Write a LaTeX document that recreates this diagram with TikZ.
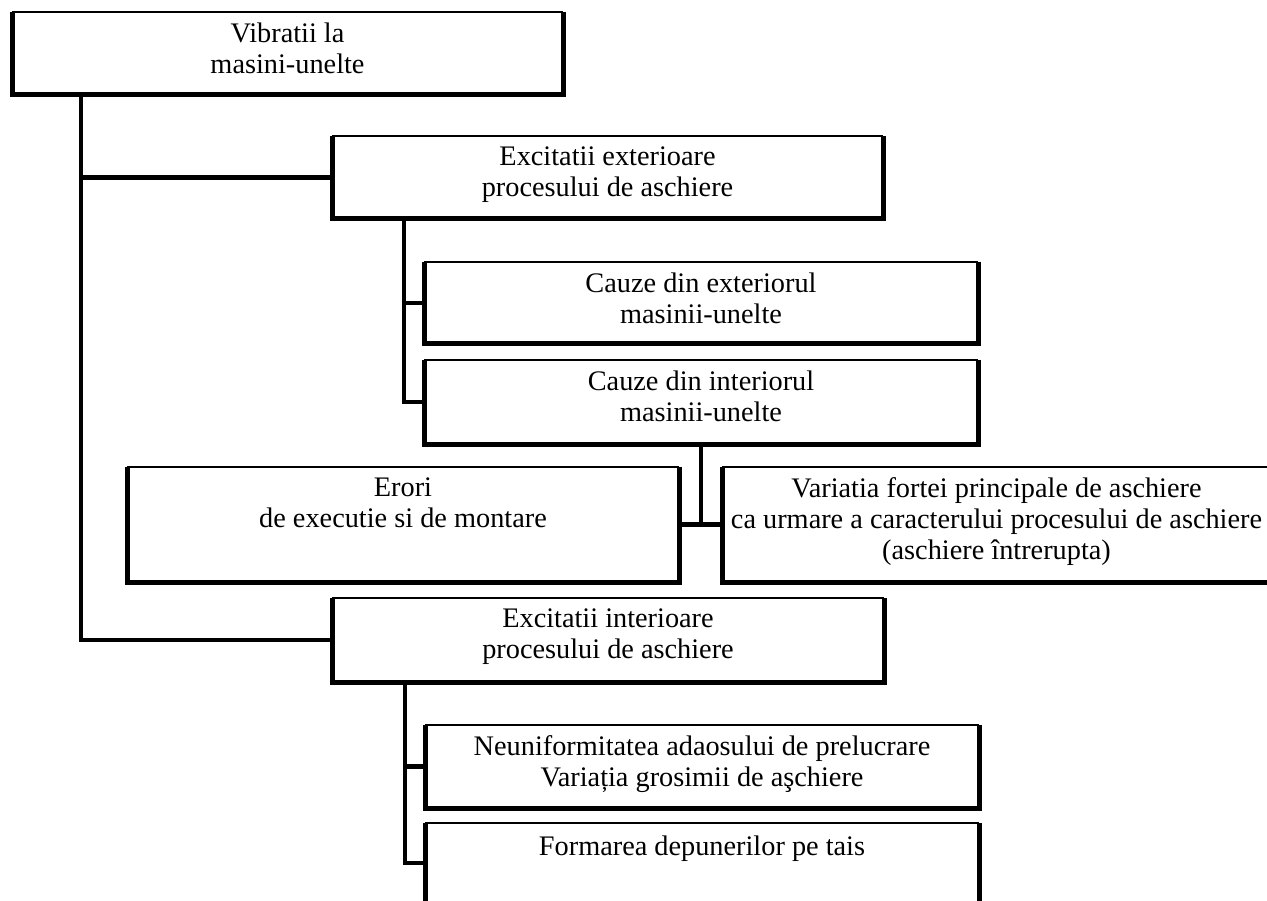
\documentclass[tikz,border=0pt]{standalone}
\usepackage{fontspec}
\setmainfont{Liberation Serif}
\begin{document}
\begin{tikzpicture}[x=1pt,y=-1pt,
  boxnode/.style={inner sep=0pt, outer sep=0pt, anchor=north west},
  txt/.style={font=\fontsize{28.3}{31}\selectfont, align=center, inner sep=0pt, anchor=north, execute at begin node=\strut},
  thinedge/.style={line width=2.8pt},
  thickedge/.style={line width=5pt, line join=miter},
  conn/.style={line width=4.2pt, line join=miter}]
\useasboundingbox (0,0) rectangle (1267,901);
\clip (0,0) rectangle (1267,901);
\fill[white] (0,0) rectangle (1267,901);

% boxes
\node[boxnode, minimum width=551pt, minimum height=83pt] (b1) at (12,12) {};
\node[boxnode, minimum width=551pt, minimum height=83pt] (b2) at (332,136) {};
\node[boxnode, minimum width=554pt, minimum height=82pt] (b3) at (424,262) {};
\node[boxnode, minimum width=554pt, minimum height=84pt] (b4) at (424,360) {};
\node[boxnode, minimum width=552pt, minimum height=115pt] (b5) at (127,467) {};
\node[boxnode, minimum width=549pt, minimum height=115pt] (b6) at (722,467) {};
\node[boxnode, minimum width=552pt, minimum height=84pt] (b7) at (332,598) {};
\node[boxnode, minimum width=554pt, minimum height=83pt] (b8) at (425,725) {};
\node[boxnode, minimum width=554pt, minimum height=80pt] (b9) at (425,823) {};

% connectors
\coordinate (j1) at ([xshift=69pt]b1.south west);
\draw[conn] (j1) |- (b7.west);
\draw[conn] (j1 |- b2.west) -- (b2.west);
\coordinate (j2) at ([xshift=72pt]b2.south west);
\draw[conn] (j2) |- (b4.west);
\draw[conn] (j2 |- b3.west) -- (b3.west);
\coordinate (j3) at ([xshift=277pt]b4.south west);
\draw[conn] (j3) -- (j3 |- b5.east);
\draw[conn] (b5.east) -- (b6.west);
\coordinate (j4) at ([xshift=73pt]b7.south west);
\draw[conn] (j4) |- (b9.west);
\draw[conn] (j4 |- b8.west) -- (b8.west);

% borders
\foreach \n in {b1,b2,b3,b4,b5,b6,b7,b8,b9}{
  \draw[thinedge] (\n.north west) -- (\n.north east);
  \draw[thickedge] (\n.north west) -- (\n.south west) -- (\n.south east) -- (\n.north east);
}

% texts
\node[txt] (t1) at ([yshift=-10.3pt]b1.north) {Vibratii la\\masini-unelte};
\node[txt] (t2) at ([yshift=-10.3pt]b2.north) {Excitatii exterioare\\procesului de aschiere};
\node[txt] (t3) at ([yshift=-10.3pt]b3.north) {Cauze din exteriorul\\masinii-unelte};
\node[txt] (t4) at ([yshift=-10.3pt]b4.north) {Cauze din interiorul\\masinii-unelte};
\node[txt] (t5) at ([yshift=-10.3pt]b5.north) {Erori\\de executie si de montare};
\node[txt] (t6) at ([yshift=-10.3pt]b6.north) {Variatia fortei principale de aschiere\\ca urmare a caracterului procesului de aschiere\\(aschiere întrerupta)};
\node[txt] (t7) at ([yshift=-10.3pt]b7.north) {Excitatii interioare\\procesului de aschiere};
\node[txt] (t8) at ([yshift=-10.3pt]b8.north) {Neuniformitatea adaosului de prelucrare\\Variația grosimii de aşchiere};
\node[txt] (t9) at ([yshift=-10.3pt]b9.north) {Formarea depunerilor pe tais};
\end{tikzpicture}
\end{document}
